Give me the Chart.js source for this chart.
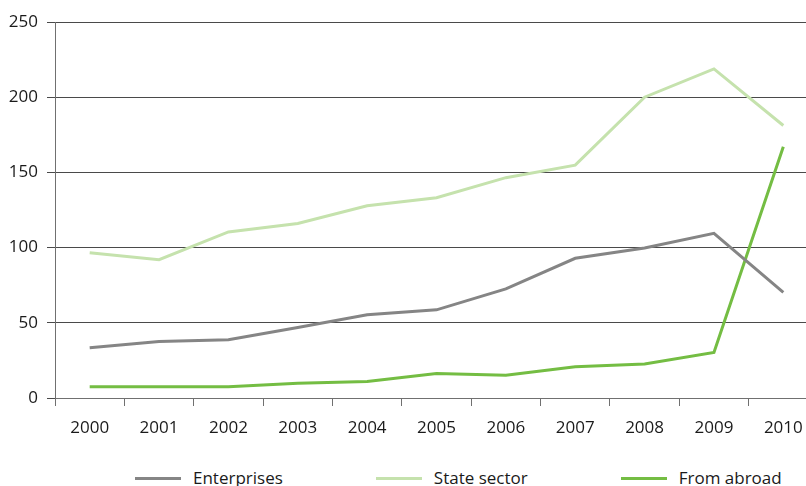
<!DOCTYPE html>
<html>
<head>
<meta charset="utf-8">
<script src="https://cdn.jsdelivr.net/npm/chart.js@4"></script>
<style>
  body { margin: 0; background: #fff; font-family: "Open Sans", sans-serif; }
  #wrap { position: relative; width: 806px; height: 486px; overflow: hidden; }
  #box { position: absolute; left: 0; top: 0; width: 818px; height: 452px; }
  #legend { position: absolute; left: 135px; top: 467px; display: flex; gap: 93px;
            font-size: 17px; line-height: 22px; color: #1a1a1a; }
  .item { display: flex; align-items: center; }
  .item span.line { display: inline-block; width: 46px; height: 3px; margin-right: 12px; }
</style>
</head>
<body>
<div id="wrap">
  <div id="box"><canvas id="myChart"></canvas></div>
  <div id="legend"></div>
</div>
<script>
const years = ['2000','2001','2002','2003','2004','2005','2006','2007','2008','2009','2010'];
const enterprises = [33.4, 37.6, 38.7, 46.9, 55.4, 58.6, 72.5, 92.9, 99.7, 109.5, 70.2];
const stateSector = [96.5, 92.0, 110.4, 116.0, 127.8, 133.2, 146.5, 154.8, 200.0, 218.8, 181.2];
const fromAbroad = [7.4, 7.4, 7.4, 9.8, 11.0, 16.3, 15.2, 20.8, 22.6, 30.3, 167.0];
const yTicks = [0, 50, 100, 150, 200, 250];

const names = ['Enterprises', 'State sector', 'From abroad'];
const colors = ['#858585', '#c5e2ad', '#74bd43'];

const datasets = [enterprises, stateSector, fromAbroad].map((d, i) => ({
    label: names[i],
    data: d,
    borderColor: colors[i],
    backgroundColor: colors[i],
    borderWidth: 3,
    pointRadius: 0,
    tension: 0,
    fill: false
}));

const font = { family: '"Open Sans", sans-serif', size: 17 };

const config = {
    type: 'line',
    data: { labels: years, datasets: datasets },
    options: {
        responsive: true,
        maintainAspectRatio: false,
        animation: false,
        layout: { padding: { top: 22, right: 0, left: 0, bottom: 0 } },
        plugins: { legend: { display: false }, tooltip: { enabled: false } },
        scales: {
            x: {
                offset: true,
                grid: { offset: true, drawOnChartArea: false, tickLength: 8, color: '#707070', lineWidth: 1 },
                border: { color: '#707070', width: 1 },
                ticks: { font: font, color: '#1a1a1a', padding: 12, maxRotation: 0, autoSkip: false },
                afterFit: (scale) => { scale.height = 54; }
            },
            y: {
                min: 0,
                max: 250,
                afterBuildTicks: (scale) => { scale.ticks = yTicks.map(v => ({ value: v })); },
                grid: { color: '#4a4a4a', lineWidth: 1, tickLength: 8 },
                border: { color: '#707070', width: 1 },
                ticks: { font: font, color: '#1a1a1a', padding: 9 },
                afterFit: (scale) => { scale.width = 55; }
            }
        }
    }
};

const canvas = document.getElementById('myChart');
const myChart = new Chart(canvas, config);

// legend built from the dataset labels and colours
const legend = document.getElementById('legend');
myChart.data.datasets.forEach(ds => {
    const item = document.createElement('div');
    item.className = 'item';
    const line = document.createElement('span');
    line.className = 'line';
    line.style.background = ds.borderColor;
    const text = document.createElement('span');
    text.textContent = ds.label;
    item.appendChild(line);
    item.appendChild(text);
    legend.appendChild(item);
});
</script>
</body>
</html>
